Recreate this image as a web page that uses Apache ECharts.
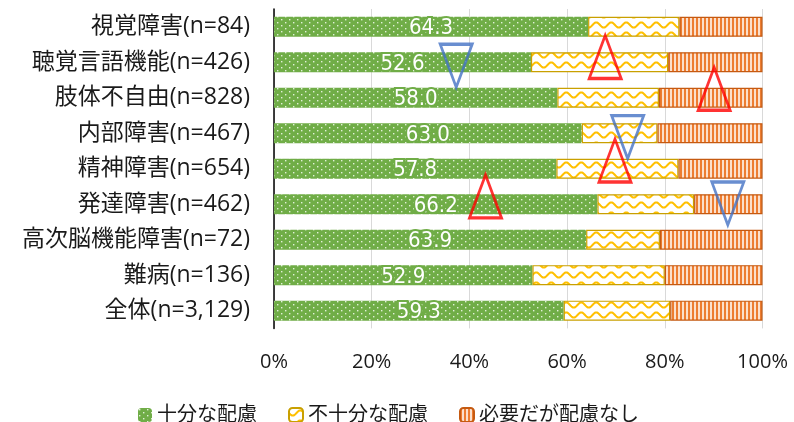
<!DOCTYPE html>
<html><head><meta charset="utf-8">
<script src="https://cdn.jsdelivr.net/npm/echarts@6/dist/echarts.min.js"></script>
<style>html,body{margin:0;padding:0;background:#fff}#c{width:794px;height:422px}</style>
</head><body><div id="c"></div>
<script>
const categories = ['視覚障害(n=84)','聴覚言語機能(n=426)','肢体不自由(n=828)','内部障害(n=467)','精神障害(n=654)','発達障害(n=462)','高次脳機能障害(n=72)','難病(n=136)','全体(n=3,129)'];
const seriesNames = ['十分な配慮','不十分な配慮','必要だが配慮なし'];
const sufficient = [64.3, 52.6, 58.0, 63.0, 57.8, 66.2, 63.9, 52.9, 59.3];
const insufficient = [18.7, 28.1, 20.8, 15.5, 25.0, 19.8, 15.1, 27.1, 21.8];
const none = [17.0, 19.3, 21.2, 21.5, 17.2, 14.0, 21.0, 20.0, 18.9];
const xTicks = [0, 20, 40, 60, 80, 100];
// markers: [x %, row position]
const lowerMarks = [[37.3, 1.10], [72.4, 3.11], [92.9, 4.98]];
const higherMarks = [[67.8, 0.85], [90.1, 1.75], [69.8, 3.77], [43.3, 4.78]];

function pat(w, h, draw) {
  const c = document.createElement('canvas'); c.width = w; c.height = h;
  const g = c.getContext('2d'); draw(g); return {image: c, repeat: 'repeat'};
}
const greenPat = pat(8, 6, g => {
  g.fillStyle = '#70AD47'; g.fillRect(0, 0, 8, 6);
  g.fillStyle = '#E2F0D9';
  g.fillRect(1, 1, 1.4, 1.4); g.fillRect(5, 4, 1.4, 1.4);
});
const yellowPat = pat(15, 10, g => {
  g.fillStyle = '#ffffff'; g.fillRect(0, 0, 15, 10);
  g.strokeStyle = '#FFC000'; g.lineWidth = 2;
  g.beginPath();
  for (let x = -1; x <= 16; x += 0.5) {
    const y = 5 + 2.6 * Math.sin(x / 15 * Math.PI * 2);
    if (x === -1) g.moveTo(x, y); else g.lineTo(x, y);
  }
  g.stroke();
});
const orangePat = pat(4, 4, g => {
  g.fillStyle = '#FBE0CC'; g.fillRect(0, 0, 4, 4);
  g.fillStyle = '#ED7D31'; g.fillRect(0, 0, 2, 4);
});

const FONT = "'Open Sans', 'Noto Sans CJK JP', sans-serif";
const NUMFONT = "'Liberation Sans Narrow', 'DejaVu Sans Condensed', 'Open Sans', sans-serif";
const chart = echarts.init(document.getElementById('c'), null, {renderer: 'canvas'});
chart.setOption({
  animation: false,
  textStyle: {fontFamily: FONT},
  grid: {left: 274, right: 31.5, top: 9, bottom: 93.6, containLabel: false},
  legend: {
    left: 133, top: 400, itemWidth: 14, itemHeight: 14, itemGap: 31,
    textStyle: {fontSize: 20, color: '#1a1a1a', fontFamily: FONT},
    data: seriesNames
  },
  xAxis: [{
    type: 'value', min: 0, max: 100, interval: 20,
    axisLine: {show: false}, axisTick: {show: false},
    splitLine: {lineStyle: {color: '#D9D9D9', width: 1}},
    axisLabel: {fontSize: 20, color: '#1a1a1a', margin: 24,
      formatter: v => xTicks.includes(v) ? v + '%' : ''}
  }],
  yAxis: [{
    type: 'category', data: categories, inverse: true,
    axisLine: {show: true, lineStyle: {color: '#000', width: 1.5}},
    axisTick: {show: false},
    axisLabel: {fontSize: 23, color: '#1a1a1a', margin: 24}
  }, {
    type: 'value', min: -0.5, max: 8.5, inverse: true, show: false
  }],
  series: [
    {name: seriesNames[0], type: 'bar', stack: 's', data: sufficient, barWidth: 20,
      itemStyle: {color: greenPat, borderColor: '#70AD47', borderWidth: 0},
      label: {show: true, position: 'inside', fontSize: 22, color: '#fff', fontFamily: NUMFONT,
        textBorderColor: '#70AD47', textBorderWidth: 4, offset: [0, 2],
        formatter: p => p.value.toFixed(1)}},
    {name: seriesNames[1], type: 'bar', stack: 's', data: insufficient, barWidth: 20,
      itemStyle: {color: yellowPat, borderColor: '#C9A000', borderWidth: 1.2}},
    {name: seriesNames[2], type: 'bar', stack: 's', data: none, barWidth: 20,
      itemStyle: {color: orangePat, borderColor: '#C55A11', borderWidth: 1.2}},
    {type: 'scatter', yAxisIndex: 1, data: lowerMarks, symbol: 'triangle', symbolRotate: 180,
      symbolSize: [32, 43], z: 10, silent: true,
      itemStyle: {color: 'rgba(0,0,0,0)', borderColor: '#4472C4', borderWidth: 3}},
    {type: 'scatter', yAxisIndex: 1, data: higherMarks, symbol: 'triangle',
      symbolSize: [32, 43], z: 10, silent: true,
      itemStyle: {color: 'rgba(0,0,0,0)', borderColor: '#FF0000', borderWidth: 3}}
  ]
});
</script></body></html>
